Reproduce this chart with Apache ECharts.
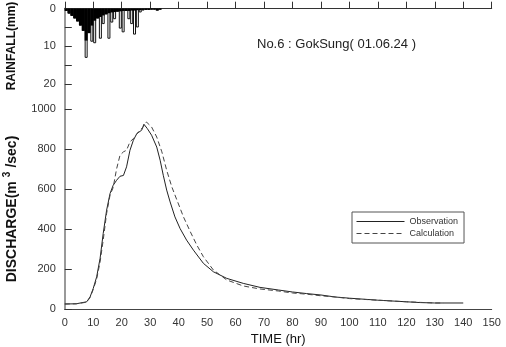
<!DOCTYPE html>
<html><head><meta charset="utf-8">
<script src="https://cdn.jsdelivr.net/npm/echarts@6/dist/echarts.min.js"></script>
<style>html,body{margin:0;padding:0;background:#fff}#c{width:506px;height:347px}</style>
</head><body><div id="c"></div>
<script>
// Rainfall (hour centres, mm)
const rainTime = [0.5,1.5,2.5,3.5,4.5,5.5,6.5,7.5,8.5,9.5,10.5,11.5,12.5,13.5,14.5,15.5,16.5,17.5,18.5,19.5,20.5,21.5,22.5,23.5,24.5,25.5,26.5,27.5,28.5,29.5,30.5,31.5,32.5,33.5];
const rainTotal = [0.6,1.3,1.9,2.6,3.4,4.5,5.9,13.1,6.5,8.8,9.2,2.6,8.0,4.1,1.5,8.0,3.7,2.8,0.8,5.3,6.3,0.6,2.8,4.1,6.9,5.0,1.0,0.5,0.3,0.3,0.2,0.2,0.5,0.2];
const rainLoss  = [0.6,1.3,1.9,2.6,3.4,4.5,5.9,8.5,6.5,4.5,3.2,2.6,2.2,1.8,1.5,1.2,1.0,0.9,0.8,0.7,0.6,0.6,0.6,0.5,0.5,0.4,0.4,0.3,0.3,0.3,0.2,0.2,0.5,0.2];

// Discharge (m3/sec)
const obsTime = [0,4,7.7,8.9,10,11.2,12.4,13.5,14.7,15.9,17,18.2,19.4,20.6,21.7,22.9,24.1,25.3,27,27.8,29,30.5,32.3,33.5,34.6,35.8,37,38.7,40.5,42.8,45.2,48.7,52.2,56.9,62.7,68.6,75,80,85,90,95,100,105,110,115,120,125,130,135,140];
const obsQ    = [25,26,36,61,103,161,253,378,494,577,618,643,663,667,710,793,843,876,893,923,901,868,809,743,668,594,535,460,402,344,294,228,186,153,128,108,95,85,77,70,60,54,49,44,40,36,32,30,30,30];
const calTime = [0,4,7.7,8.9,10,11.2,12.4,13.5,14.7,15.9,17,18.2,19.4,20.6,21.7,22.9,24.1,25.9,27.6,28.7,30.5,32.3,34.1,35.8,37.6,39.4,41.7,44.1,46.4,48.7,52.2,56.9,62.7,68.6,75,80,85,90,95,100,105,110,115,120,125,130,133];
const calQ    = [25,26,34,58,98,150,235,345,478,569,607,700,768,785,793,835,851,885,910,934,909,859,785,693,610,544,460,386,319,261,195,145,115,100,90,80,74,66,60,52,48,44,40,36,33,30,30];

const xTicks = [0,10,20,30,40,50,60,70,80,90,100,110,120,130,140,150];
const rainLabels = [0,10,20];
const rainTicks = [0,5,10,15,20];
const qTicks = [0,200,400,600,800,1000];

const pair = (xs, ys) => xs.map((x, i) => [x, ys[i]]);
const FONT = 'Liberation Sans';
const chart = echarts.init(document.getElementById('c'));
chart.setOption({
  animation: false,
  textStyle: {fontFamily: FONT},
  title: {text: 'No.6 : GokSung( 01.06.24 )', left: 252, top: 33,
    textStyle: {fontSize: 13, fontWeight: 'normal', color: '#222', fontFamily: FONT}},
  legend: {orient: 'vertical', left: 352, top: 212, itemWidth: 48, itemHeight: 10, itemGap: 3,
    padding: [5, 6, 5, 4], borderColor: '#555', borderWidth: 1, backgroundColor: '#fff',
    itemStyle: {opacity: 0}, lineStyle: {width: 1},
    textStyle: {fontSize: 9, color: '#333', fontFamily: FONT},
    data: ['Observation', 'Calculation']},
  grid: {left: 64.8, right: 14.3, top: 8.7, bottom: 38, show: false, containLabel: false, outerBoundsMode: 'none'},
  xAxis: [
    {type: 'value', min: 0, max: 150, position: 'bottom',
      axisLine: {lineStyle: {color: '#333', width: 1}},
      axisTick: {inside: true, length: 7, lineStyle: {color: '#333'}, customValues: xTicks},
      axisLabel: {fontSize: 11, color: '#333', margin: 8, customValues: xTicks},
      splitLine: {show: false},
      name: 'TIME (hr)', nameLocation: 'middle', nameGap: 22,
      nameTextStyle: {fontSize: 13, color: '#111', fontFamily: FONT}},
    {type: 'value', min: 0, max: 150, position: 'top',
      axisLine: {show: true, lineStyle: {color: '#444', width: 1}},
      axisTick: {show: false}, axisLabel: {show: false}, splitLine: {show: false}},
    {type: 'value', min: 0, max: 150, show: false}
  ],
  yAxis: [
    {type: 'value', min: 0, max: 80, inverse: true, position: 'left',
      axisLine: {show: true, lineStyle: {color: '#888', width: 2}},
      axisTick: {show: true, inside: true, length: 7, lineStyle: {color: '#333'}, customValues: rainTicks},
      axisLabel: {fontSize: 11, color: '#333', margin: 9, customValues: rainLabels},
      splitLine: {show: false}},
    {type: 'value', min: 0, max: 1500, position: 'left',
      axisLine: {show: false},
      axisTick: {show: true, inside: true, length: 7, lineStyle: {color: '#333'}, customValues: qTicks},
      axisLabel: {fontSize: 11, color: '#333', margin: 9, customValues: qTicks, formatter: v => String(v)},
      splitLine: {show: false}},
    {type: 'value', min: 0, max: 1500, position: 'right',
      axisLine: {show: true, lineStyle: {color: '#999', width: 2}},
      axisTick: {show: false}, axisLabel: {show: false}, splitLine: {show: false}}
  ],
  graphic: [
    {type: 'text', rotation: Math.PI / 2, x: 12, y: 46,
      style: {text: 'RAINFALL(mm)', font: 'bold 12px ' + FONT, fill: '#111', align: 'center', verticalAlign: 'middle'}},
    {type: 'text', rotation: Math.PI / 2, x: 12, y: 209,
      style: {text: 'DISCHARGE(m{s|3}/sec)', font: 'bold 14px ' + FONT, fill: '#111', align: 'center', verticalAlign: 'middle',
        rich: {s: {fontSize: 10, fontWeight: 'bold', verticalAlign: 'top', padding: [0, 4, 10, 4]}}}}
  ],
  series: [
    {type: 'bar', name: 'Rain total', xAxisIndex: 0, yAxisIndex: 0, barWidth: 3,
      itemStyle: {color: '#fff', borderColor: '#111', borderWidth: 1},
      data: pair(rainTime, rainTotal)},
    {type: 'bar', name: 'Rain loss', xAxisIndex: 2, yAxisIndex: 0, barWidth: 3,
      itemStyle: {color: '#000'}, data: pair(rainTime, rainLoss)},
    {type: 'line', name: 'Observation', xAxisIndex: 0, yAxisIndex: 1, showSymbol: false, symbol: 'none',
      lineStyle: {color: '#222', width: 1}, itemStyle: {color: '#222'}, data: pair(obsTime, obsQ)},
    {type: 'line', name: 'Calculation', xAxisIndex: 0, yAxisIndex: 1, showSymbol: false, symbol: 'none',
      lineStyle: {color: '#444', width: 1, type: [5, 3]}, itemStyle: {color: '#444'}, data: pair(calTime, calQ)}
  ]
});
</script></body></html>
